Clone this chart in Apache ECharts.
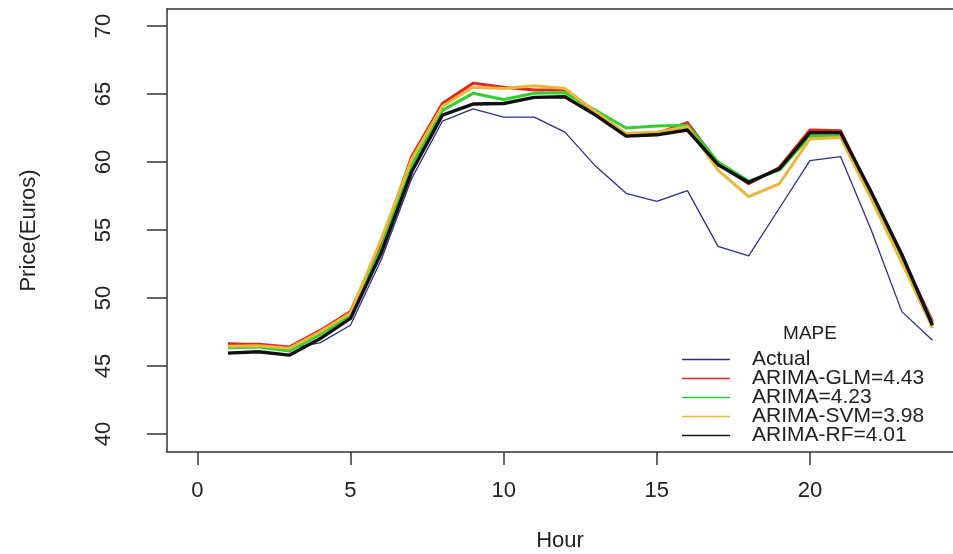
<!DOCTYPE html>
<html>
<head>
<meta charset="utf-8">
<script src="https://cdn.jsdelivr.net/npm/echarts@6/dist/echarts.min.js"></script>
<style>
  html, body { margin: 0; padding: 0; background: #fff; }
  #chart { width: 953px; height: 554px; }
</style>
</head>
<body>
<div id="chart"></div>
<script>
// ---- data ----
var hours = [1,2,3,4,5,6,7,8,9,10,11,12,13,14,15,16,17,18,19,20,21,22,23,24];
var actual   = [46.7,46.6,46.3,46.7,48.0,52.8,58.8,63.0,63.9,63.3,63.3,62.2,59.7,57.7,57.1,57.9,53.8,53.1,56.6,60.1,60.4,55.0,49.0,46.9];
var arimaGlm = [46.6,46.6,46.4,47.6,49.0,54.0,60.4,64.3,65.8,65.5,65.3,65.3,63.6,62.0,62.1,62.9,59.9,58.4,59.6,62.35,62.3,57.6,53.0,48.3];
var arima    = [46.35,46.4,46.1,47.3,48.75,53.6,59.8,63.8,65.05,64.6,65.05,65.1,63.8,62.5,62.65,62.7,60.0,58.6,59.4,61.9,61.9,57.4,52.8,48.2];
var arimaSvm = [46.45,46.5,46.3,47.5,48.9,54.3,60.2,64.1,65.5,65.4,65.6,65.4,63.7,62.1,62.2,62.6,59.4,57.45,58.4,61.7,61.8,57.3,52.6,47.8];
var arimaRf  = [45.95,46.05,45.8,47.0,48.5,53.3,59.3,63.45,64.26,64.3,64.75,64.8,63.45,61.9,62.0,62.35,59.8,58.5,59.5,62.15,62.15,57.8,53.2,48.0];
var seriesNames = ['Actual','ARIMA-GLM=4.43','ARIMA=4.23','ARIMA-SVM=3.98','ARIMA-RF=4.01'];
var xTicks = [0,5,10,15,20];
var yTicks = [40,45,50,55,60,65,70];
var legendTitle = 'MAPE';
var xTitle = 'Hour';
var yTitle = 'Price(Euros)';

function pairs(arr) { return hours.map(function (h, i) { return [h, arr[i]]; }); }

var FONT = '"Liberation Sans", Arial, sans-serif';
var TXT = '#222';
var AX = '#333';

var styles = [
  { color: '#2d2d8c', width: 1.3 },
  { color: '#e3261c', width: 3 },
  { color: '#2fd12f', width: 3 },
  { color: '#e9b73a', width: 3 },
  { color: '#111111', width: 3.4 }
];
var dataSets = [actual, arimaGlm, arima, arimaSvm, arimaRf];

var chart = echarts.init(document.getElementById('chart'));
chart.setOption({
  animation: false,
  backgroundColor: '#ffffff',
  textStyle: { fontFamily: FONT },
  grid: { left: 167, right: 0, top: 9, bottom: 102, containLabel: false, outerBoundsMode: 'none' },
  title: {
    text: legendTitle,
    left: 805, top: 319, textAlign: 'center',
    textStyle: { fontFamily: FONT, fontSize: 19, fontWeight: 'normal', color: TXT }
  },
  legend: {
    data: seriesNames,
    orient: 'vertical',
    left: 677, top: 344,
    icon: 'rect',
    itemWidth: 48, itemHeight: 1.5,
    itemGap: -2,
    lineStyle: { width: 1.5 },
    itemStyle: { borderWidth: 0 },
    textStyle: { fontFamily: FONT, fontSize: 21, color: TXT, padding: [0, 0, 0, 17] }
  },
  xAxis: [{
    type: 'value', position: 'bottom', min: -0.99, max: 24.67,
    name: xTitle, nameLocation: 'middle', nameGap: 78,
    nameTextStyle: { fontFamily: FONT, fontSize: 22, color: TXT },
    axisLine: { show: true, onZero: false, lineStyle: { color: AX, width: 1.5 } },
    axisTick: { show: true, customValues: xTicks, length: 13, lineStyle: { color: AX, width: 1.5 } },
    axisLabel: { customValues: xTicks, margin: 28, fontSize: 22, color: TXT, fontFamily: FONT },
    splitLine: { show: false }
  }, {
    type: 'value', position: 'top', min: -0.99, max: 24.67,
    axisLine: { show: true, onZero: false, lineStyle: { color: AX, width: 1.5 } },
    axisTick: { show: false }, axisLabel: { show: false }, splitLine: { show: false }
  }],
  yAxis: {
    type: 'value', min: 38.68, max: 71.25,
    name: yTitle, nameLocation: 'middle', nameGap: 127, nameRotate: 90,
    nameTextStyle: { fontFamily: FONT, fontSize: 22, color: TXT },
    axisLine: { show: true, onZero: false, lineStyle: { color: AX, width: 1.5 } },
    axisTick: { show: true, customValues: yTicks, length: 20, lineStyle: { color: AX, width: 1.5 } },
    axisLabel: { customValues: yTicks, rotate: 90, margin: 52, fontSize: 22, color: TXT, fontFamily: FONT },
    splitLine: { show: false }
  },
  series: dataSets.map(function (d, i) {
    return {
      name: seriesNames[i],
      type: 'line',
      xAxisIndex: 0,
      data: pairs(d),
      showSymbol: false,
      symbol: 'none',
      color: styles[i].color,
      itemStyle: { color: styles[i].color },
      lineStyle: { color: styles[i].color, width: styles[i].width, join: 'round' },
      emphasis: { disabled: true }
    };
  })
});
</script>
</body>
</html>
